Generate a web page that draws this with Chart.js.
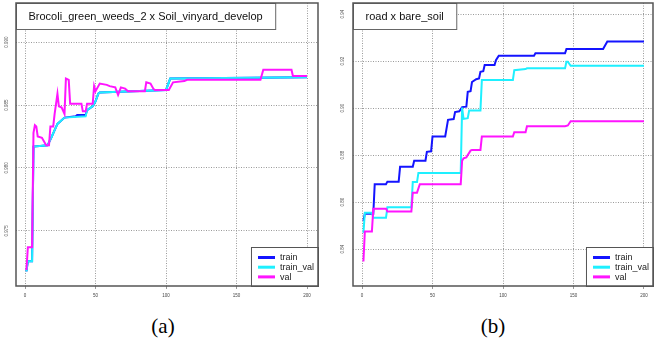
<!DOCTYPE html>
<html>
<head>
<meta charset="utf-8">
<script src="https://cdn.jsdelivr.net/npm/chart.js@4/dist/chart.umd.min.js"></script>
<style>
  body { margin: 0; background: #fff; width: 654px; height: 348px; position: relative; overflow: hidden; }
  canvas { position: absolute; top: 0; }
  #chartA { left: 0; }
  #chartB { left: 330px; }
  .caption { position: absolute; top: 314px; font-family: "Liberation Serif", serif; font-size: 21px; color: #000; transform: translateX(-50%); }
</style>
</head>
<body>
<canvas id="chartA" width="326" height="300"></canvas>
<canvas id="chartB" width="324" height="300"></canvas>
<div class="caption" style="left:163px">(a)</div>
<div class="caption" style="left:493px">(b)</div>
<script>
// x軸は共通（エポック）
const xTicks = [0, 50, 100, 150, 200];

// (a) Brocoli_green_weeds_2 x Soil_vinyard_develop
const titleA = 'Brocoli_green_weeds_2 x Soil_vinyard_develop';
const yTicksA = [0.975, 0.980, 0.985, 0.990];
const trainA = [[1,0.9718],[2,0.9726],[5,0.9726],[6,0.9817],[16,0.9818],[19,0.9825],[21,0.9830],[23,0.9835],[28,0.9840],[36,0.9841],[37,0.9842],[43,0.9842],[44,0.9846],[48,0.9849],[50,0.9853],[52,0.9859],[53,0.9860],[100,0.9862],[103,0.9871],[200,0.9872]];
const trainValA = [[1,0.9718],[2,0.9726],[5,0.9726],[6,0.9817],[16,0.9818],[19,0.9825],[21,0.9830],[23,0.9835],[28,0.9840],[43,0.9841],[44,0.9846],[48,0.9849],[50,0.9853],[52,0.9859],[53,0.9860],[100,0.9862],[103,0.9871],[200,0.9872]];
const valA = [[1,0.9719],[2,0.9737],[5,0.9737],[6,0.9828],[7,0.9834],[8,0.9833],[9,0.9825],[12,0.9824],[15,0.9818],[17,0.9818],[18,0.9833],[20,0.9833],[21,0.9843],[23,0.9859],[24,0.9849],[26,0.9848],[28,0.9843],[29,0.9871],[31,0.9870],[32,0.9851],[40,0.9851],[41,0.9845],[43,0.9845],[44,0.9851],[48,0.9851],[49,0.9865],[50,0.9861],[53,0.9867],[58,0.9866],[60,0.9865],[64,0.9864],[66,0.9858],[68,0.9864],[71,0.9863],[73,0.9861],[85,0.9861],[86,0.9868],[89,0.9867],[91,0.9863],[92,0.9862],[102,0.9862],[105,0.9868],[113,0.9869],[115,0.9870],[167,0.9870],[169,0.9878],[189,0.9878],[190,0.9873],[200,0.9873]];

// (b) road x bare_soil
const titleB = 'road x bare_soil';
const yTicksB = [0.84, 0.86, 0.88, 0.90, 0.92, 0.94];
const trainB = [[1,0.8520],[2,0.8550],[8,0.8550],[9,0.8676],[17,0.8676],[18,0.8687],[26,0.8687],[27,0.8750],[36,0.8750],[37,0.8776],[45,0.8776],[46,0.8814],[49,0.8816],[50,0.8879],[59,0.8879],[61,0.8950],[65,0.8953],[66,0.8983],[69,0.8986],[71,0.9004],[74,0.9006],[75,0.9069],[77,0.9072],[78,0.9111],[81,0.9123],[83,0.9126],[84,0.9154],[86,0.9157],[87,0.9183],[94,0.9183],[95,0.9204],[97,0.9223],[122,0.9223],[123,0.9233],[144,0.9233],[145,0.9251],[171,0.9251],[174,0.9283],[200,0.9283]];
const trainValB = [[1,0.8469],[2,0.8555],[7,0.8555],[8,0.8533],[17,0.8533],[18,0.8578],[35,0.8578],[36,0.8685],[39,0.8685],[40,0.8724],[70,0.8724],[71,0.9002],[72,0.8954],[75,0.8957],[76,0.8990],[84,0.8990],[85,0.9119],[107,0.9119],[108,0.9161],[116,0.9166],[117,0.9169],[144,0.9169],[145,0.9197],[146,0.9197],[148,0.9180],[200,0.9180]];
const valB = [[1,0.8347],[2,0.8475],[7,0.8475],[8,0.8572],[17,0.8572],[18,0.8560],[35,0.8560],[36,0.8640],[39,0.8640],[41,0.8676],[70,0.8676],[71,0.8776],[72,0.8786],[74,0.8790],[75,0.8800],[77,0.8819],[78,0.8822],[84,0.8822],[85,0.8879],[107,0.8879],[108,0.8897],[116,0.8897],[117,0.8923],[144,0.8923],[146,0.8926],[148,0.8944],[200,0.8944]];

const seriesLabels = ['train', 'train_val', 'val'];
const seriesColors = ['#1414ff', '#1ef0ff', '#ff14ff'];
const FONT = '"Liberation Sans", Arial, sans-serif';

function toPoints(arr) {
  return arr.map(p => ({ x: p[0], y: p[1] }));
}

// タイトル枠・凡例・枠線・縦軸ラベルを描く
const panelDecor = {
  id: 'panelDecor',
  afterDatasetsDraw(chart, args, opts) {
    const ctx = chart.ctx;
    const area = chart.chartArea;
    const yScale = chart.scales.y;
    ctx.save();

    // 縦軸ラベル（90度回転）
    ctx.fillStyle = '#555';
    ctx.font = '4.5px ' + FONT;
    ctx.textAlign = 'center';
    ctx.textBaseline = 'middle';
    opts.yTicks.forEach(v => {
      const py = yScale.getPixelForValue(v);
      ctx.save();
      ctx.translate(opts.yLabelX, py);
      ctx.rotate(-Math.PI / 2);
      ctx.fillText(v.toFixed(opts.digits), 0, 0);
      ctx.restore();
    });

    // タイトル枠
    ctx.font = '11px ' + FONT;
    const tw = ctx.measureText(opts.title).width;
    const bw = tw + 25;
    const bh = 26;
    ctx.fillStyle = '#fff';
    ctx.fillRect(area.left, area.top, bw, bh);
    ctx.strokeStyle = '#666';
    ctx.lineWidth = 1;
    ctx.strokeRect(area.left + 0.5, area.top + 0.5, bw, bh);
    ctx.fillStyle = '#111';
    ctx.textAlign = 'center';
    ctx.fillText(opts.title, area.left + bw / 2, area.top + bh / 2 + 0.5);

    // 凡例
    ctx.font = '9px ' + FONT;
    const maxW = Math.max(...seriesLabels.map(s => ctx.measureText(s).width));
    const lw = 29 + maxW + 4;
    const lh = 39;
    const lx = area.right - lw;
    const ly = area.bottom - lh;
    ctx.fillStyle = '#fff';
    ctx.fillRect(lx, ly, lw, lh);
    ctx.strokeStyle = '#555';
    ctx.strokeRect(lx + 0.5, ly + 0.5, lw, lh);
    ctx.textAlign = 'left';
    chart.data.datasets.forEach((ds, i) => {
      const ry = ly + 10.5 + i * 9.7;
      ctx.strokeStyle = ds.borderColor;
      ctx.lineWidth = 3;
      ctx.beginPath();
      ctx.moveTo(lx + 7, ry);
      ctx.lineTo(lx + 24, ry);
      ctx.stroke();
      ctx.fillStyle = '#222';
      ctx.fillText(ds.label, lx + 29, ry + 0.5);
    });

    // プロット枠
    ctx.strokeStyle = '#555';
    ctx.lineWidth = 1.5;
    ctx.strokeRect(area.left, area.top, area.right - area.left, area.bottom - area.top);
    ctx.restore();
  }
};

function makeChart(id, cfg) {
  const datasets = [cfg.train, cfg.trainVal, cfg.val].map((arr, i) => ({
    label: seriesLabels[i],
    data: toPoints(arr),
    borderColor: seriesColors[i],
    backgroundColor: seriesColors[i],
    borderWidth: 2,
    pointRadius: 0,
    fill: false,
    tension: 0,
    order: 2 - i
  }));
  return new Chart(document.getElementById(id), {
    type: 'line',
    data: { datasets: datasets },
    plugins: [panelDecor],
    options: {
      responsive: false,
      animation: false,
      events: [],
      layout: { padding: { left: 0, top: 3, right: cfg.padRight, bottom: 0 } },
      scales: {
        x: {
          type: 'linear',
          min: cfg.xMin,
          max: cfg.xMax,
          afterBuildTicks: scale => { scale.ticks = xTicks.map(v => ({ value: v })); },
          afterFit: scale => { scale.height = 14; },
          grid: { color: '#9a9a9a', lineWidth: 1, tickLength: 3 },
          border: { display: false, dash: [1, 1.5] },
          ticks: {
            color: '#444',
            font: { size: 4.5, family: FONT },
            padding: 4,
            maxRotation: 0,
            autoSkip: false
          }
        },
        y: {
          type: 'linear',
          min: cfg.yMin,
          max: cfg.yMax,
          afterBuildTicks: scale => { scale.ticks = cfg.yTicks.map(v => ({ value: v })); },
          afterFit: scale => { scale.width = cfg.yWidth; },
          grid: { color: '#9a9a9a', lineWidth: 1, drawTicks: false },
          border: { display: false, dash: [1, 1.5] },
          ticks: { display: false }
        }
      },
      plugins: {
        legend: { display: false },
        tooltip: { enabled: false },
        panelDecor: { title: cfg.title, yTicks: cfg.yTicks, yLabelX: cfg.yLabelX, digits: cfg.digits }
      }
    }
  });
}

makeChart('chartA', {
  title: titleA, yTicks: yTicksA, digits: 3,
  train: trainA, trainVal: trainValA, val: valA,
  xMin: -6.4, xMax: 207.8, yMin: 0.97063, yMax: 0.9931,
  padRight: 8, yWidth: 16, yLabelX: 7
});

makeChart('chartB', {
  title: titleB, yTicks: yTicksB, digits: 2,
  train: trainB, trainVal: trainValB, val: valB,
  xMin: -6.4, xMax: 206.4, yMin: 0.8243, yMax: 0.9447,
  padRight: 1, yWidth: 23, yLabelX: 13
});
</script>
</body>
</html>
